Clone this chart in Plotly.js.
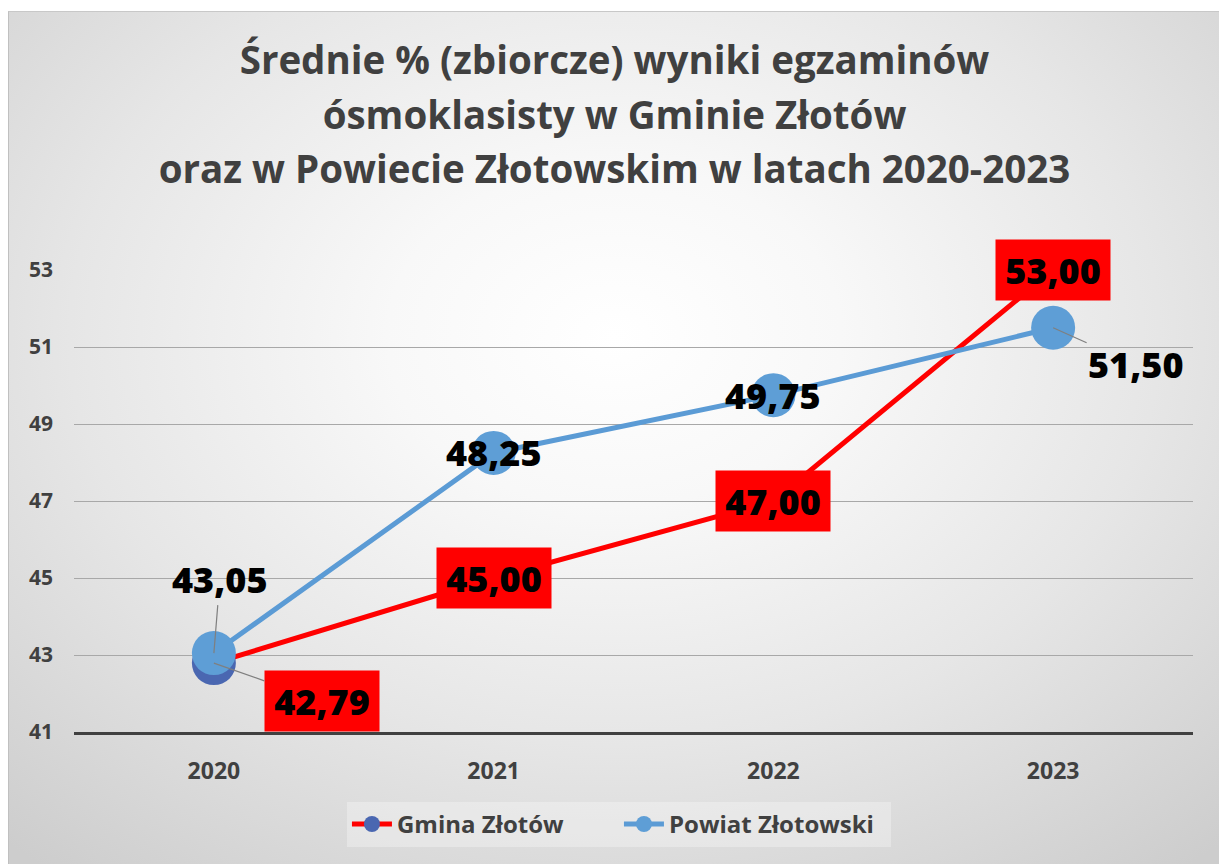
<!DOCTYPE html>
<html>
<head>
<meta charset="utf-8">
<script src="https://cdn.plot.ly/plotly-3.0.1.min.js"></script>
<style>
  html, body { margin: 0; padding: 0; background: #ffffff; width: 1219px; height: 864px; overflow: hidden; }
  #frame {
    position: absolute; left: 8px; top: 11px; width: 1211px; height: 853px;
    background: radial-gradient(ellipse 75% 80% at 50% 38%, #ffffff 0%, #f8f8f8 25%, #e6e6e6 60%, #cdcdcd 100%);
    border-left: 1px solid #c0c0c0; border-top: 1px solid #c8c8c8;
  }
  #chart { width: 1211px; height: 853px; }
</style>
</head>
<body>
<div id="frame"><div id="chart"></div></div>
<script>
// ---- data ----
const years = ['2020', '2021', '2022', '2023'];
const gminaValues = [42.79, 45.00, 47.00, 53.00];
const powiatValues = [43.05, 48.25, 49.75, 51.50];
const yTickValues = [41, 43, 45, 47, 49, 51, 53];
const seriesNames = ['Gmina Złotów', 'Powiat Złotowski'];
const titleLines = ['Średnie % (zbiorcze) wyniki egzaminów', 'ósmoklasisty w Gminie Złotów', 'oraz w Powiecie Złotowskim w latach 2020-2023'];

// ---- styles ----
const FONT = '"Open Sans", Lato, "Liberation Sans", sans-serif';
const fmt = v => v.toFixed(2).replace('.', ',');
// label offsets (pixels) for points whose label sits away from the marker
const gminaLabelOffset = [{ax: 108, ay: 38}, null, null, null];
const powiatLabelOffset = [{ax: 6, ay: -74}, null, null, {ax: 83, ay: 37}];

const traces = [
  {
    x: years, y: gminaValues, name: seriesNames[0], type: 'scatter', mode: 'lines+markers',
    line: {color: '#ff0000', width: 5},
    marker: {color: '#4a67b1', size: 44},
    hoverinfo: 'skip'
  },
  {
    x: years, y: powiatValues, name: seriesNames[1], type: 'scatter', mode: 'lines+markers',
    line: {color: '#5b9bd5', width: 5},
    marker: {color: '#5e9ed6', size: 44},
    hoverinfo: 'skip'
  }
];

// annotations on a category axis are positioned by category index
const labelFont = {family: FONT, size: 36, color: '#000000', weight: 800};
const annotations = [];
gminaValues.forEach((v, i) => {
  const off = gminaLabelOffset[i];
  annotations.push({
    x: i, y: v, xref: 'x', yref: 'y',
    text: fmt(v),
    font: labelFont,
    bgcolor: '#ff0000', borderpad: 5, width: 104, height: 50,
    showarrow: !!off, ax: off ? off.ax : 0, ay: off ? off.ay : 0,
    arrowhead: 0, arrowwidth: 1.2, arrowcolor: '#7f7f7f', standoff: 0
  });
});
powiatValues.forEach((v, i) => {
  const off = powiatLabelOffset[i];
  annotations.push({
    x: i, y: v, xref: 'x', yref: 'y',
    text: fmt(v),
    font: labelFont,
    showarrow: !!off, ax: off ? off.ax : 0, ay: off ? off.ay : 0,
    arrowhead: 0, arrowwidth: 1.2, arrowcolor: '#7f7f7f', standoff: 0
  });
});

const layout = {
  width: 1211, height: 853,
  paper_bgcolor: 'rgba(0,0,0,0)', plot_bgcolor: 'rgba(0,0,0,0)',
  margin: {l: 65, r: 27, t: 258, b: 133},
  font: {family: FONT, color: '#404040'},
  title: {
    text: titleLines.map(t => '<span style="font-size:38.5px">' + t + '</span>').join('<br>'),
    font: {family: FONT, size: 42, color: '#404040', weight: 'bold'},
    x: 0.5, xref: 'container', xanchor: 'center',
    y: 0.927, yref: 'container', yanchor: 'top'
  },
  xaxis: {
    type: 'category', range: [-0.5, 3.5],
    showgrid: false, zeroline: false,
    showline: true, linecolor: '#404040', linewidth: 3,
    ticks: '', ticklabelstandoff: 16,
    tickfont: {family: FONT, size: 23, color: '#404040', weight: 'bold'},
    fixedrange: true
  },
  yaxis: {
    range: [41, 53], tickvals: yTickValues, ticktext: yTickValues.map(String),
    showgrid: true, gridcolor: '#a8a8a8', gridwidth: 1,
    zeroline: false, showline: false, ticks: '', ticklabelstandoff: 20,
    tickfont: {family: FONT, size: 21, color: '#404040', weight: 'bold'},
    fixedrange: true
  },
  showlegend: true,
  legend: {
    orientation: 'h', x: 0.487, xanchor: 'center', y: -0.2, yanchor: 'middle',
    bgcolor: 'rgba(255,255,255,0.3)',
    font: {family: FONT, size: 24, color: '#404040', weight: 'bold'},
    entrywidth: 217, entrywidthmode: 'pixels',
    itemwidth: 40, tracegroupgap: 0
  },
  annotations: annotations
};

Plotly.newPlot('chart', traces, layout, {displayModeBar: false, staticPlot: true});
</script>
</body>
</html>
